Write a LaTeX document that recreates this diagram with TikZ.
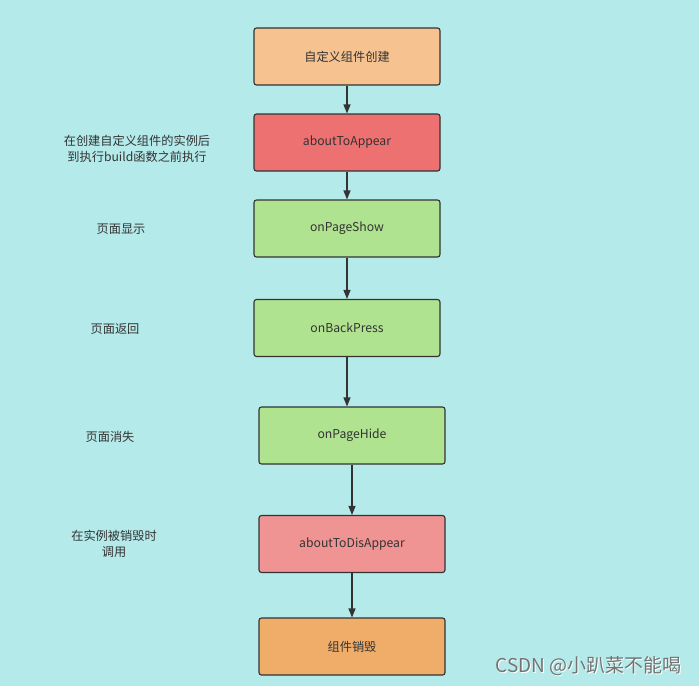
\documentclass[tikz,border=0pt]{standalone}
\usepackage{fontspec}
\setmainfont{Noto Sans CJK SC}
\usetikzlibrary{arrows.meta}
\definecolor{bg}{HTML}{B5EAEA}
\definecolor{cpeach}{HTML}{F5C290}
\definecolor{cred}{HTML}{EC7170}
\definecolor{cgreen}{HTML}{B0E38F}
\definecolor{cpink}{HTML}{F09393}
\definecolor{corange}{HTML}{F0AD6A}
\definecolor{ink}{HTML}{333333}
\tikzset{
  x=1pt, y=-1pt,
  box/.style={draw=ink, line width=1.1pt, rounded corners=2.5pt, minimum width=186pt, minimum height=57pt, inner sep=0pt, font=\fontsize{12.2}{14}\selectfont, text=ink},
  lbl/.style={font=\fontsize{12.2}{16}\selectfont, text=ink, align=center, inner sep=0pt},
  conn/.style={draw=ink, line width=1.1pt, -{Triangle[length=9pt,width=7pt]}}
}
\begin{document}
\begin{tikzpicture}
\fill[bg] (0,0) rectangle (699,686);
\useasboundingbox (0,0) rectangle (699,686);
\node[box, fill=cpeach] (b1) at (347,56.5) {自定义组件创建};
\node[box, fill=cred] (b2) at (347,142.5) {aboutToAppear};
\node[box, fill=cgreen] (b3) at (347,228.5) {onPageShow};
\node[box, fill=cgreen] (b4) at (347,328) {onBackPress};
\node[box, fill=cgreen] (b5) at (352,435.5) {onPageHide};
\node[box, fill=cpink] (b6) at (352,544) {aboutToDisAppear};
\node[box, fill=corange] (b7) at (352,646.5) {组件销毁};
\draw[conn] (b1.south) -- (b2.north);
\draw[conn] (b2.south) -- (b3.north);
\draw[conn] (b3.south) -- (b4.north);
\draw[conn] (b4.south) -- (b4.south |- b5.north);
\draw[conn] (b5.south) -- (b6.north);
\draw[conn] (b6.south) -- (b7.north);
\node[lbl] (l2) at (137,148.5) {在创建自定义组件的实例后\\到执行build函数之前执行};
\node[lbl] (l3) at (121,229) {页面显示};
\node[lbl] (l4) at (115,328.5) {页面返回};
\node[lbl] (l5) at (110,436.5) {页面消失};
\node[lbl] (l6) at (114,544) {在实例被销毁时\\调用};
\node[font=\fontsize{19}{21}\selectfont, text=white, inner sep=0pt] (wms) at (589.5,667) {CSDN @小趴菜不能喝};
\node[font=\fontsize{19}{21}\selectfont, text=gray!90!black, inner sep=0pt] (wm) at (588.5,666) {CSDN @小趴菜不能喝};
\end{tikzpicture}
\end{document}
